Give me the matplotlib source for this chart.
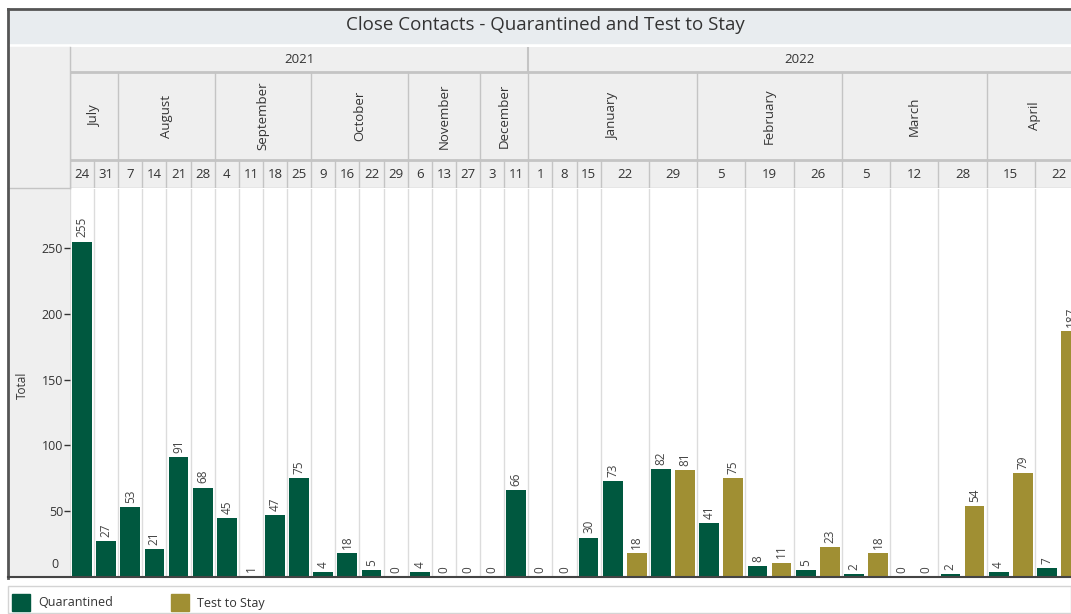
import numpy as np
import matplotlib.pyplot as plt
from matplotlib.patches import Rectangle
from matplotlib.lines import Line2D

plt.rcParams['font.family'] = ['Open Sans', 'DejaVu Sans']

# data
years = ['2021'] * 19 + ['2022'] * 13
months = (['July'] * 2 + ['August'] * 4 + ['September'] * 4 + ['October'] * 4
          + ['November'] * 3 + ['December'] * 2
          + ['January'] * 5 + ['February'] * 3 + ['March'] * 3 + ['April'] * 2)
days = [24, 31, 7, 14, 21, 28, 4, 11, 18, 25, 9, 16, 22, 29, 6, 13, 27, 3, 11,
        1, 8, 15, 22, 29, 5, 19, 26, 5, 12, 28, 15, 22]
quarantined = [255, 27, 53, 21, 91, 68, 45, 1, 47, 75, 4, 18, 5, 0, 4, 0, 0, 0, 66,
               0, 0, 30, 73, 82, 41, 8, 5, 2, 0, 2, 4, 7]
test_to_stay = [np.nan] * 22 + [18, 81, 75, 11, 23, 18, 0, 54, 79, 187]

GREEN = '#00583f'
OLIVE = '#a08f33'
W, H = 1071, 614


def fx(x):
    return x / W


def fy(y):
    return 1 - y / H


# slot layout: one slot per bar, columns without test to stay get one slot
nslots = [1 if np.isnan(t) else 2 for t in test_to_stay]
lefts = np.concatenate([[0], np.cumsum(nslots)[:-1]])
rights = lefts + np.array(nslots)
q_x = lefts + 0.5
t_idx = [i for i, t in enumerate(test_to_stay) if not np.isnan(t)]
t_x = [lefts[i] + 1.5 for i in t_idx]
t_vals = [test_to_stay[i] for i in t_idx]
XMAX = 41.5

fig = plt.figure(figsize=(W / 100, H / 100), dpi=100)

# title bar and left gray panel (behind the axes)
fig.patches.append(Rectangle((fx(8), fy(43)), fx(1071) - fx(8), fy(9) - fy(43),
                             transform=fig.transFigure, color='#e8ecef', zorder=-2))
fig.patches.append(Rectangle((fx(8), fy(577)), fx(70) - fx(8), fy(47) - fy(577),
                             transform=fig.transFigure, color='#efefef', zorder=-2))
fig.text(fx(545), fy(25), 'Close Contacts - Quarantined and Test to Stay',
         ha='center', va='center', fontsize=13.5, color='#333333')

# main bars
ax = fig.add_axes([fx(70), fy(577), fx(1071) - fx(70), (577 - 189) / H])
ax.bar(q_x, quarantined, width=0.82, color=GREEN, zorder=3)
ax.bar(t_x, t_vals, width=0.82, color=OLIVE, zorder=3)
for x, v in list(zip(q_x, quarantined)) + list(zip(t_x, t_vals)):
    ax.annotate(str(int(v)), (x, v), xytext=(0, 3), textcoords='offset points',
                rotation=90, ha='center', va='bottom', fontsize=8.5, color='#444444')
for b in list(lefts) + [rights[-1]]:
    ax.axvline(b, color='#dcdcdc', lw=1, zorder=1)
ax.set_xlim(0, XMAX)
ax.set_ylim(0, 295)
ax.set_xticks([])
ax.set_yticks([50, 100, 150, 200, 250])
ax.tick_params(axis='y', length=4, width=1, color='#333333', labelsize=9,
               labelcolor='#333333', pad=1)
for s in ['top', 'right', 'left', 'bottom']:
    ax.spines[s].set_visible(False)
fig.text(fx(59), fy(564), '0', ha='right', va='center', fontsize=9, color='#333333')
fig.text(fx(22), fy(385), 'Total', rotation=90, ha='center', va='center',
         fontsize=8.5, color='#333333')

# header with year / month / day rows, y in pixels
axh = fig.add_axes([fx(70), fy(188), fx(1071) - fx(70), (188 - 47) / H])
axh.set_xlim(0, XMAX)
axh.set_ylim(188, 47)
axh.axis('off')
axh.add_patch(Rectangle((0, 47), XMAX, 141, color='#efefef', zorder=0))
LINE = '#c4c4c4'
axh.axhline(72, color=LINE, lw=2)
axh.axhline(160, color=LINE, lw=2)
axh.axhline(188, color=LINE, lw=1)

for i in range(len(days)):
    axh.plot([lefts[i]] * 2, [160, 188], color=LINE, lw=1)
    axh.text((lefts[i] + rights[i]) / 2, 174, str(days[i]), ha='center', va='center',
             fontsize=9.5, color='#333333')

# month spans
i = 0
while i < len(months):
    j = i
    while j + 1 < len(months) and months[j + 1] == months[i] and years[j + 1] == years[i]:
        j += 1
    axh.plot([lefts[i]] * 2, [72, 160], color=LINE, lw=1)
    axh.text((lefts[i] + rights[j]) / 2, 116, months[i], rotation=90, ha='center',
             va='center', fontsize=9.5, color='#333333')
    i = j + 1

# year spans
for y in sorted(set(years)):
    idx = [k for k, v in enumerate(years) if v == y]
    a, b = lefts[idx[0]], min(rights[idx[-1]], XMAX)
    axh.plot([a] * 2, [47, 72], color=LINE, lw=1.5)
    axh.text((a + b) / 2, 59.5, y, ha='center', va='center', fontsize=9.5, color='#333333')

# left header cell separator
fig.add_artist(Line2D([fx(70), fx(70)], [fy(47), fy(188)], color=LINE, lw=1))
fig.add_artist(Line2D([fx(8), fx(70)], [fy(188), fy(188)], color=LINE, lw=1))

# outer frame
fig.add_artist(Line2D([fx(8), 1], [fy(9), fy(9)], color='#555555', lw=2))
fig.add_artist(Line2D([fx(8), fx(8)], [fy(9), fy(578)], color='#555555', lw=2))
fig.add_artist(Line2D([fx(8), 1], [fy(577), fy(577)], color='#444444', lw=1.5))

# legend
fig.patches.append(Rectangle((fx(8), fy(613)), fx(1071) - fx(8), fy(586) - fy(613),
                             transform=fig.transFigure, fill=False, ec='#d4d4d4', lw=1))
fig.patches.append(Rectangle((fx(12), fy(611)), fx(18), 17 / H,
                             transform=fig.transFigure, color=GREEN))
fig.text(fx(38), fy(603), 'Quarantined', ha='left', va='center', fontsize=9, color='#333333')
fig.patches.append(Rectangle((fx(171), fy(611)), fx(18), 17 / H,
                             transform=fig.transFigure, color=OLIVE))
fig.text(fx(197), fy(603), 'Test to Stay', ha='left', va='center', fontsize=9, color='#333333')

fig.savefig('out.png', dpi=100)
